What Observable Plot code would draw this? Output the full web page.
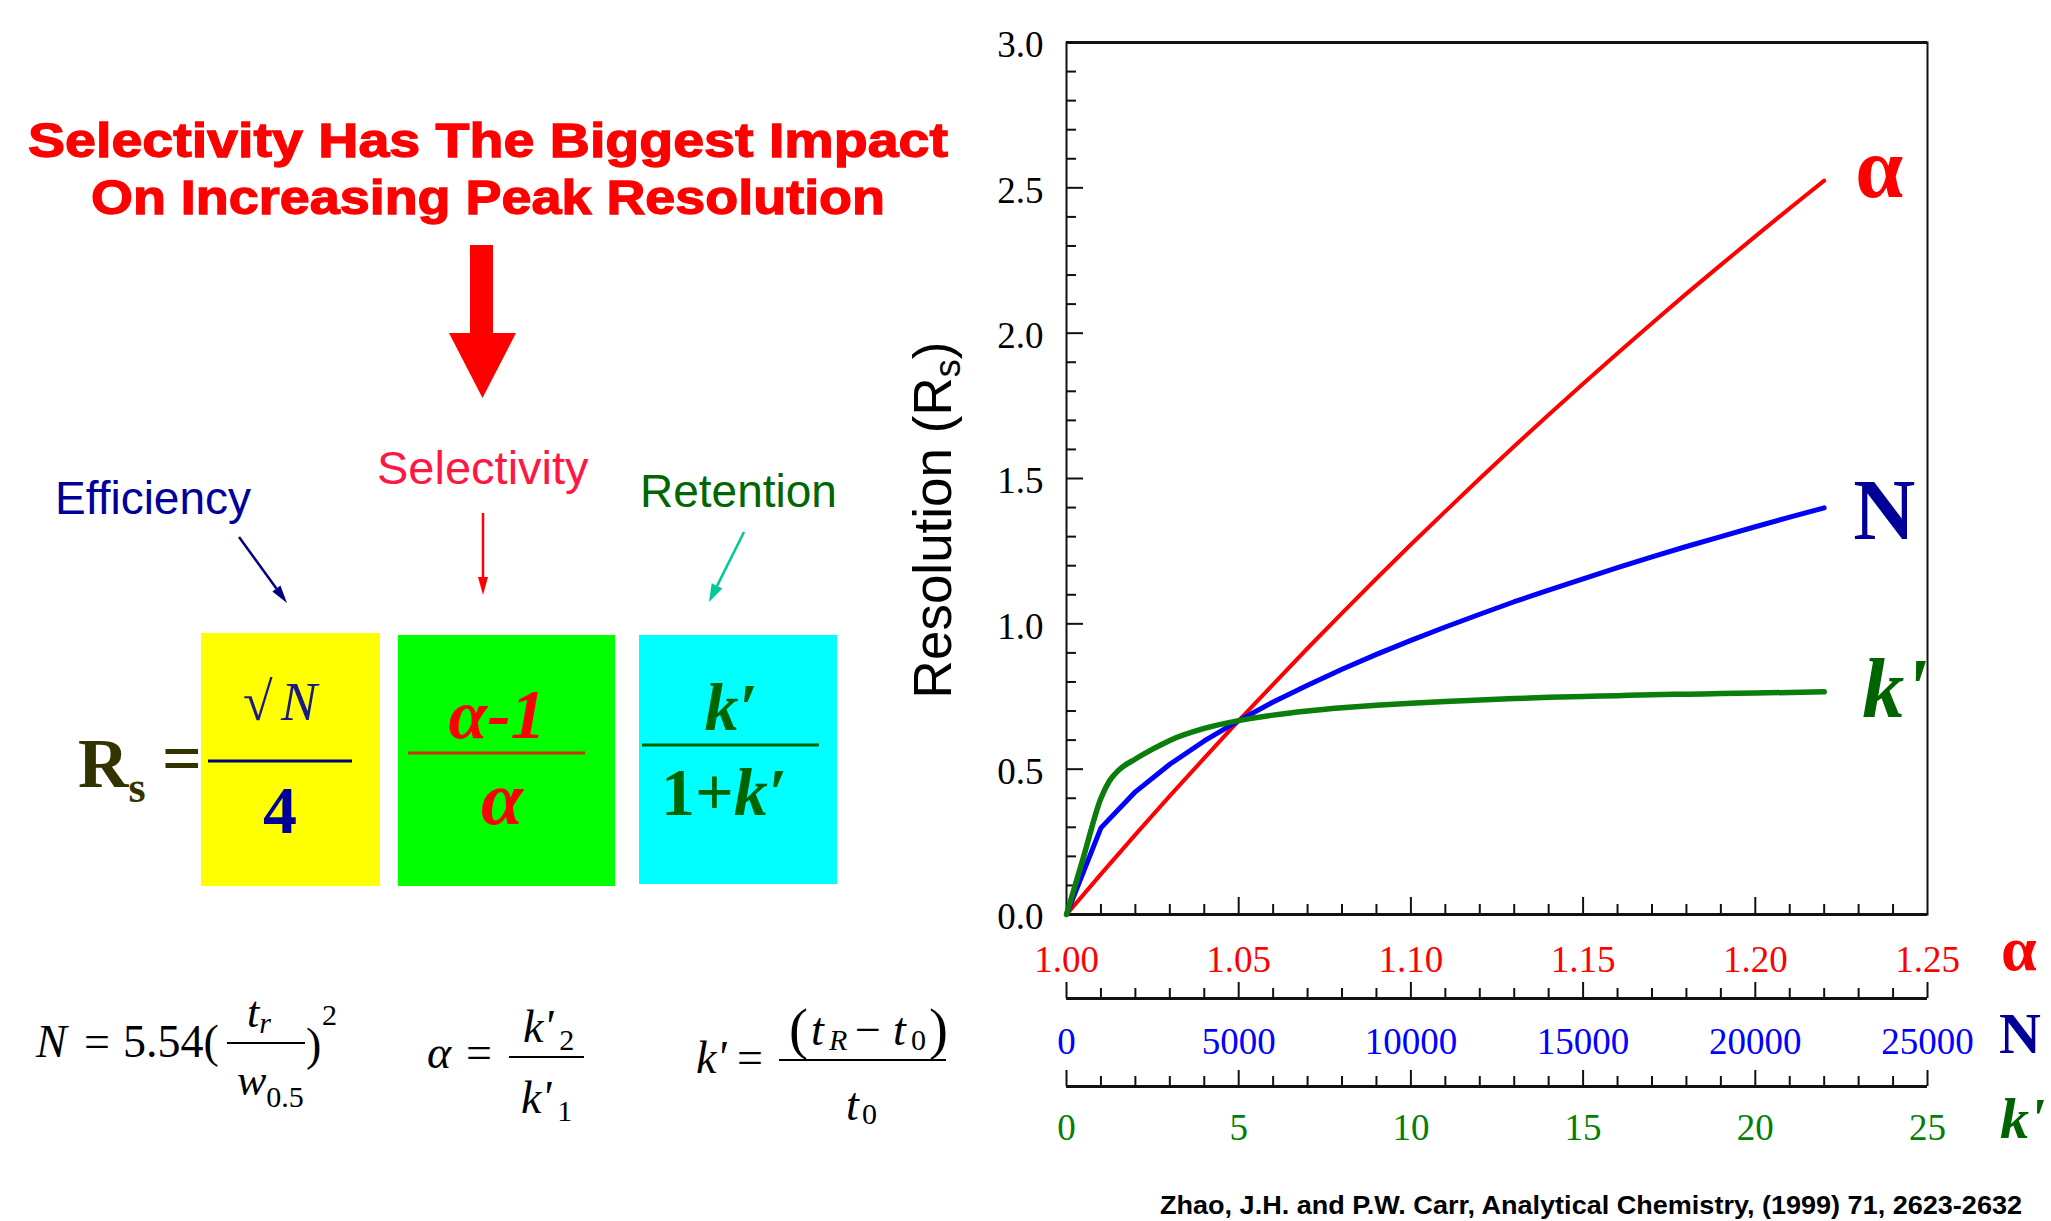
<!DOCTYPE html>
<html><head><meta charset="utf-8">
<script src="https://cdn.jsdelivr.net/npm/d3@7"></script>
<script src="https://cdn.jsdelivr.net/npm/@observablehq/plot@0.6"></script>
<style>
html,body{margin:0;padding:0;background:#fff;}
#wrap{position:relative;width:2051px;height:1221px;overflow:hidden;background:#fff;}
#wrap > svg{position:absolute;left:0;top:0;}
</style></head><body><div id="wrap"></div>
<script>
// ---------- data ----------
const alphaValues = [1.00,1.01,1.02,1.03,1.04,1.05,1.06,1.07,1.08,1.09,1.10,1.11,1.12,1.13,1.14,1.15,1.16,1.17,1.18,1.19,1.20,1.21,1.22];
const alphaRs     = [0,0.139,0.275,0.408,0.538,0.667,0.792,0.916,1.037,1.156,1.273,1.387,1.500,1.611,1.719,1.826,1.931,2.034,2.136,2.235,2.333,2.430,2.525];
const plateN      = [0,1000,2000,3000,4000,5000,6000,7000,8000,9000,10000,11000,12000,13000,14000,15000,16000,17000,18000,19000,20000,21000,22000];
const nRs         = [0,0.298,0.422,0.517,0.597,0.667,0.731,0.789,0.844,0.895,0.943,0.989,1.033,1.076,1.116,1.155,1.193,1.230,1.266,1.300,1.334,1.367,1.399];
const kValues     = [0,0.5,1.0,1.25,1.5,2,2.5,3,4,5,6,7,8,9,10,11,12,13,14,15,16,17,18,19,20,21,22];
const kRs         = [0,0.20,0.40,0.46,0.495,0.535,0.569,0.599,0.64,0.667,0.686,0.70,0.711,0.72,0.727,0.733,0.738,0.743,0.747,0.75,0.753,0.756,0.758,0.76,0.762,0.764,0.766];

const yLabels     = [0,0.5,1.0,1.5,2.0,2.5,3.0];
const alphaLabels = [1.00,1.05,1.10,1.15,1.20,1.25];
const nLabels     = [0,5000,10000,15000,20000,25000];
const kLabels     = [0,5,10,15,20,25];

// ---------- layout ----------
const W = 2051, H = 1221;
const FL = 1066, FR = 1927, FT = 42, FB = 914;
const PW = FR - FL, PH = FB - FT;
const serif = "'Liberation Serif','Times New Roman',serif";
const sans = "'Liberation Sans',Arial,sans-serif";
const RED = "#ff0000", BLUE = "#0000ff", GREEN = "#0a7d0a", NAVY = "#000099", DKGREEN = "#006400";

const alphaData = alphaValues.map((a, i) => ({a, rs: alphaRs[i]}));
const nData = plateN.map((n, i) => ({n, rs: nRs[i]}));
const kData = kValues.map((k, i) => ({k, rs: kRs[i]}));

const yMinor = d3.range(1, 30).filter(i => i % 5 !== 0).map(i => i / 10);
const yMajor = [0.5, 1.0, 1.5, 2.0, 2.5];
const aMinor = d3.range(1, 25).filter(i => i % 5 !== 0).map(i => 1 + i / 100);
const aMajor = [1.05, 1.10, 1.15, 1.20];
const nMinor = d3.range(1, 25).filter(i => i % 5 !== 0).map(i => i * 1000);
const kMinor = d3.range(1, 25).filter(i => i % 5 !== 0);

const wrap = document.getElementById("wrap");

// ---------- decorative overlay (left panel, titles) ----------
function arrow(x1, y1, x2, y2, color, w, len, half) {
  const a = Math.atan2(y2 - y1, x2 - x1);
  const bx = x2 - len * Math.cos(a), by = y2 - len * Math.sin(a);
  const px = -Math.sin(a) * half, py = Math.cos(a) * half;
  return `<line x1="${x1}" y1="${y1}" x2="${bx}" y2="${by}" stroke="${color}" stroke-width="${w}"/>
  <polygon points="${x2},${y2} ${bx + px},${by + py} ${bx - px},${by - py}" fill="${color}"/>`;
}
const deco = `
<svg xmlns="http://www.w3.org/2000/svg" width="${W}" height="${H}" style="background:#fff">
 <g font-family="${sans}" font-weight="bold" font-size="48" fill="${RED}" stroke="${RED}" stroke-width="1.3" text-anchor="middle">
  <text x="488" y="157" textLength="920" lengthAdjust="spacingAndGlyphs">Selectivity Has The Biggest Impact</text>
  <text x="488" y="214" textLength="794" lengthAdjust="spacingAndGlyphs">On Increasing Peak Resolution</text>
 </g>
 <rect x="470" y="245" width="23" height="89" fill="${RED}"/>
 <polygon points="449,333 516,333 482.5,398" fill="${RED}"/>

 <text x="55" y="514" font-family="${sans}" font-size="46" fill="${NAVY}">Efficiency</text>
 <text x="377" y="484" font-family="${sans}" font-size="47" fill="#ff1744">Selectivity</text>
 <text x="640" y="507" font-family="${sans}" font-size="46" fill="#006600">Retention</text>
 ${arrow(239, 537, 287, 603, "#000080", 2.5, 18, 5)}
 ${arrow(483, 513, 483, 595, "#ff0000", 2.5, 18, 5)}
 ${arrow(744, 532, 709, 602, "#00c896", 2.5, 18, 6)}

 <rect x="201" y="633" width="179" height="253" fill="#ffff00"/>
 <rect x="398" y="635" width="217" height="251" fill="#00ff00"/>
 <rect x="639" y="635" width="198" height="249" fill="#00ffff"/>

 <g font-family="${serif}">
  <text x="78" y="787" font-weight="bold" font-size="70" fill="#333300">R<tspan font-size="44" dy="15">s</tspan></text>
  <text x="162" y="782" font-weight="bold" font-size="70" fill="#333300">=</text>
  <text x="243" y="720" font-size="54" fill="#1a1a80">√<tspan x="281" font-style="italic">N</tspan></text>
  <line x1="208" y1="761" x2="352" y2="761" stroke="#000080" stroke-width="3"/>
  <text x="280" y="833" text-anchor="middle" font-weight="bold" font-size="68" fill="${NAVY}">4</text>

  <text x="497" y="738" text-anchor="middle" font-style="italic" font-weight="bold" font-size="70" fill="${RED}">α-1</text>
  <line x1="408" y1="753" x2="585" y2="753" stroke="#c83200" stroke-width="3"/>
  <text x="502" y="824" text-anchor="middle" font-style="italic" font-weight="bold" font-size="76" fill="${RED}">α</text>

  <text x="731" y="730" text-anchor="middle" font-style="italic" font-weight="bold" font-size="68" fill="${DKGREEN}">k′</text>
  <line x1="642" y1="745" x2="819" y2="745" stroke="${DKGREEN}" stroke-width="3"/>
  <text x="724" y="815" text-anchor="middle" font-weight="bold" font-size="68" fill="${DKGREEN}">1+<tspan font-style="italic">k′</tspan></text>
 </g>

 <g font-family="${serif}" fill="#000">
  <text y="1057" font-size="46"><tspan x="36" font-style="italic">N</tspan><tspan x="84">=</tspan><tspan x="123">5.54(</tspan></text>
  <text x="247" y="1027" font-size="44" font-style="italic">t<tspan font-size="30" dy="6">r</tspan></text>
  <line x1="227" y1="1043" x2="305" y2="1043" stroke="#000" stroke-width="2"/>
  <text x="237" y="1095" font-size="44" font-style="italic">w<tspan font-size="30" dy="12" font-style="normal">0.5</tspan></text>
  <text x="306" y="1060" font-size="46">)</text>
  <text x="322" y="1025" font-size="30">2</text>

  <text x="427" y="1068" font-size="46" font-style="italic">α</text>
  <text x="466" y="1068" font-size="46">=</text>
  <line x1="509" y1="1057" x2="584" y2="1057" stroke="#000" stroke-width="2"/>
  <text x="523" y="1042" font-size="46" font-style="italic">k'<tspan font-size="30" dx="6" dy="8" font-style="normal">2</tspan></text>
  <text x="521" y="1113" font-size="46" font-style="italic">k'<tspan font-size="30" dx="6" dy="8" font-style="normal">1</tspan></text>

  <text x="696" y="1073" font-size="46" font-style="italic">k'</text>
  <text x="737" y="1073" font-size="46">=</text>
  <line x1="779" y1="1060" x2="946" y2="1060" stroke="#000" stroke-width="2"/>
  <text x="789" y="1048" font-size="57">(</text>
  <text x="811" y="1045" font-size="46" font-style="italic">t</text>
  <text x="829" y="1050" font-size="30" font-style="italic">R</text>
  <text x="855" y="1045" font-size="46">−</text>
  <text x="893" y="1045" font-size="46" font-style="italic">t</text>
  <text x="911" y="1050" font-size="30">0</text>
  <text x="929" y="1048" font-size="57">)</text>
  <text x="846" y="1120" font-size="46" font-style="italic">t</text>
  <text x="862" y="1124" font-size="30">0</text>
 </g>

 <text transform="translate(951,520) rotate(-90)" text-anchor="middle" font-family="${sans}" font-size="53" fill="#000">Resolution (R<tspan font-size="36" dy="9">s</tspan><tspan dy="-9">)</tspan></text>

 <g font-family="${serif}" font-weight="bold">
  <text x="2001" y="970" font-size="64" fill="${RED}">α</text>
  <text x="1999" y="1053" font-size="58" fill="${NAVY}">N</text>
  <text x="2000" y="1138" font-size="58" font-style="italic" fill="${DKGREEN}">k'</text>
 </g>

 <text x="1160" y="1214" font-family="${sans}" font-weight="bold" font-size="25" fill="#000" textLength="862" lengthAdjust="spacingAndGlyphs">Zhao, J.H. and P.W. Carr, Analytical Chemistry, (1999) 71, 2623-2632</text>
</svg>`;
wrap.insertAdjacentHTML("beforeend", deco);

const common = {
  width: W, height: H,
  marginLeft: FL, marginRight: W - FR,
  style: {background: "transparent", overflow: "visible", maxWidth: "none"}
};

// ---------- main plot: frame, y axis, alpha axis, alpha curve ----------
const main = Plot.plot({
  ...common,
  marginTop: FT, marginBottom: H - FB,
  x: {domain: [1.0, 1.25], axis: null},
  y: {domain: [0, 3], axis: null},
  marks: [
    Plot.frame({stroke: "#111", strokeWidth: 2}),
    Plot.ruleY([0, 3], {stroke: "#111", strokeWidth: 3}),
    Plot.tickY(yMinor, {y: d => d, insetRight: PW - 10, stroke: "#111", strokeWidth: 2}),
    Plot.tickY(yMajor, {y: d => d, insetRight: PW - 17, stroke: "#111", strokeWidth: 2}),
    Plot.tickX(aMinor, {x: d => d, insetTop: PH - 10, stroke: "#111", strokeWidth: 2}),
    Plot.tickX(aMajor, {x: d => d, insetTop: PH - 17, stroke: "#111", strokeWidth: 2}),
    Plot.text(yLabels, {y: d => d, text: d => d.toFixed(1), frameAnchor: "left", textAnchor: "end", dx: -23, dy: 3,
      fontSize: 37, fontFamily: serif, fill: "#000"}),
    Plot.text(alphaLabels, {x: d => d, text: d => d.toFixed(2), frameAnchor: "bottom", dy: 57,
      fontSize: 37, fontFamily: serif, fill: RED}),
    Plot.line(alphaData, {x: "a", y: "rs", stroke: RED, strokeWidth: 4}),
    Plot.text(alphaData.slice(-1), {x: "a", y: "rs", text: () => "α", textAnchor: "start", dx: 31, dy: -11,
      fontSize: 86, fontWeight: "bold", fontFamily: serif, fill: RED})
  ]
});
wrap.append(main);

// ---------- N curve ----------
const curveN = Plot.plot({
  ...common,
  marginTop: FT, marginBottom: H - FB,
  x: {domain: [0, 25000], axis: null},
  y: {domain: [0, 3], axis: null},
  marks: [
    Plot.line(nData, {x: "n", y: "rs", stroke: BLUE, strokeWidth: 5}),
    Plot.text(nData.slice(-1), {x: "n", y: "rs", text: () => "N", textAnchor: "start", dx: 29, dy: 4,
      fontSize: 86, fontWeight: "bold", fontFamily: serif, fill: NAVY})
  ]
});
wrap.append(curveN);

// ---------- k' curve ----------
const curveK = Plot.plot({
  ...common,
  marginTop: FT, marginBottom: H - FB,
  x: {domain: [0, 25], axis: null},
  y: {domain: [0, 3], axis: null},
  marks: [
    Plot.line(kData, {x: "k", y: "rs", stroke: GREEN, strokeWidth: 5.5, curve: "monotone-x"}),
    Plot.text(kData.slice(-1), {x: "k", y: "rs", text: () => "k'", textAnchor: "start", dx: 38, dy: -2,
      fontSize: 84, fontWeight: "bold", fontStyle: "italic", fontFamily: serif, fill: DKGREEN})
  ]
});
wrap.append(curveK);

// ---------- N axis strip ----------
const axisN = Plot.plot({
  ...common,
  marginTop: 982, marginBottom: H - 998,
  x: {domain: [0, 25000], axis: null},
  y: {domain: [0, 1], axis: null},
  marks: [
    Plot.ruleY([0], {stroke: "#111", strokeWidth: 3}),
    Plot.tickX(nLabels, {x: d => d, stroke: "#111", strokeWidth: 2}),
    Plot.tickX(nMinor, {x: d => d, insetTop: 6, stroke: "#111", strokeWidth: 2}),
    Plot.text(nLabels, {x: d => d, text: d => String(d), frameAnchor: "bottom", dy: 55,
      fontSize: 37, fontFamily: serif, fill: BLUE})
  ]
});
wrap.append(axisN);

// ---------- k' axis strip ----------
const axisK = Plot.plot({
  ...common,
  marginTop: 1070, marginBottom: H - 1086,
  x: {domain: [0, 25], axis: null},
  y: {domain: [0, 1], axis: null},
  marks: [
    Plot.ruleY([0], {stroke: "#111", strokeWidth: 3}),
    Plot.tickX(kLabels, {x: d => d, stroke: "#111", strokeWidth: 2}),
    Plot.tickX(kMinor, {x: d => d, insetTop: 6, stroke: "#111", strokeWidth: 2}),
    Plot.text(kLabels, {x: d => d, text: d => String(d), frameAnchor: "bottom", dy: 53,
      fontSize: 37, fontFamily: serif, fill: "#008000"})
  ]
});
wrap.append(axisK);
</script>
</body></html>
